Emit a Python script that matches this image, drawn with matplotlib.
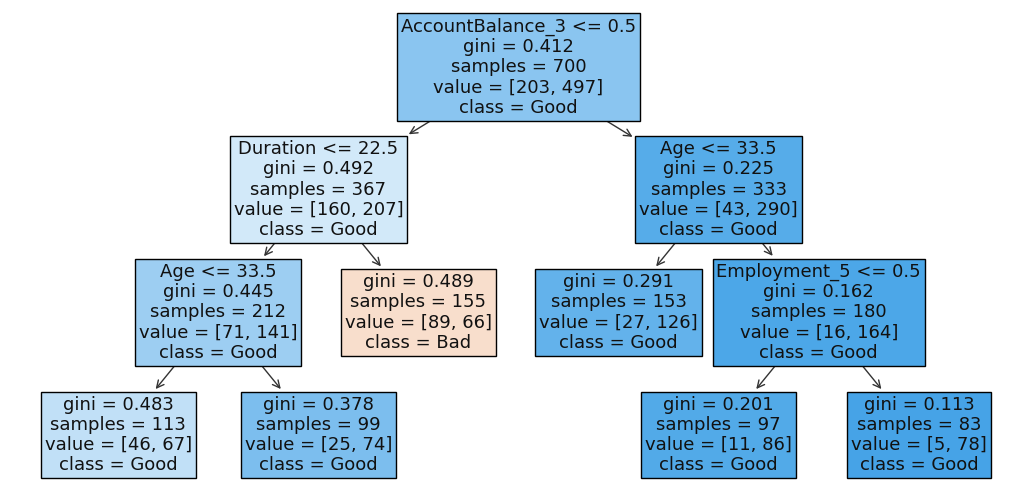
import matplotlib
matplotlib.use("Agg")
import matplotlib.pyplot as plt
import numpy as np

# ---- tree data (preorder) ----
class_names = ["Bad", "Good"]
features = ["AccountBalance_3", "Duration", "Age", None, None, None,
            "Age", None, "Employment_5", None, None]
thresholds = [0.5, 22.5, 33.5, None, None, None, 33.5, None, 0.5, None, None]
gini = [0.412, 0.492, 0.445, 0.483, 0.378, 0.489, 0.225, 0.291, 0.162, 0.201, 0.113]
value_bad = [203, 160, 71, 46, 25, 89, 43, 27, 16, 11, 5]
value_good = [497, 207, 141, 67, 74, 66, 290, 126, 164, 86, 78]
children_left = [1, 2, 3, -1, -1, -1, 7, -1, 9, -1, -1]
children_right = [6, 5, 4, -1, -1, -1, 8, -1, 10, -1, -1]


def color_brew(n):
    s, v = 0.75, 0.9
    c = s * v
    m = v - c
    out = []
    for h in np.arange(25, 385, 360.0 / n).astype(int):
        h_bar = h / 60.0
        x = c * (1 - abs((h_bar % 2) - 1))
        rgb = [(c, x, 0), (x, c, 0), (0, c, x), (0, x, c), (x, 0, c), (c, 0, x), (c, x, 0)]
        r, g, b = rgb[int(h_bar)]
        out.append([int(255 * (r + m)), int(255 * (g + m)), int(255 * (b + m))])
    return out


COLORS = color_brew(len(class_names))


def fill_color(i):
    vals = np.array([value_bad[i], value_good[i]], dtype=float)
    vals = vals / vals.sum()
    col = COLORS[int(np.argmax(vals))]
    sv = sorted(vals, reverse=True)
    alpha = (sv[0] - sv[1]) / (1 - sv[1])
    col = [int(round(alpha * c + (1 - alpha) * 255, 0)) for c in col]
    return "#%02x%02x%02x" % tuple(col)


def node_text(i):
    lines = []
    if children_left[i] != -1:
        lines.append("%s <= %s" % (features[i], thresholds[i]))
    lines.append("gini = %s" % gini[i])
    lines.append("samples = %d" % (value_bad[i] + value_good[i]))
    lines.append("value = [%d, %d]" % (value_bad[i], value_good[i]))
    lines.append("class = %s" % class_names[int(np.argmax([value_bad[i], value_good[i]]))])
    return "\n".join(lines)


# ---- simple tidy tree layout (Reingold-Tilford style) ----
def layout(i):
    if children_left[i] == -1:
        return {i: 0.0}, [0.0], [0.0]
    pl, ll, rl = layout(children_left[i])
    pr, lr, rr = layout(children_right[i])
    shift = max(rl[d] + 1 - lr[d] for d in range(min(len(rl), len(lr))))
    pos = dict(pl)
    for k, v in pr.items():
        pos[k] = v + shift
    lr = [v + shift for v in lr]
    rr = [v + shift for v in rr]
    cx = (pos[children_left[i]] + pos[children_right[i]]) / 2.0
    n = max(len(ll), len(lr))
    left = [cx] + [ll[d] if d < len(ll) else lr[d] for d in range(n)]
    right = [cx] + [rr[d] if d < len(rr) else rl[d] for d in range(n)]
    pos[i] = cx
    return pos, left, right


pos, _, _ = layout(0)
depth = {0: 0}
order = [0]
for i in order:
    for c in (children_left[i], children_right[i]):
        if c != -1:
            depth[c] = depth[i] + 1
            order.append(c)
minx = min(pos.values())
max_x = max(pos.values()) - minx + 1
max_y = max(depth.values()) + 1


def xy(i):
    return ((pos[i] - minx + 0.5) / max_x, (max_y - depth[i] - 0.5) / max_y)


fig = plt.figure(figsize=(10.11, 4.91), dpi=100)
ax = fig.add_axes([0, 0, 1, 1])
ax.set_xlim(-0.018, 0.992)
ax.set_ylim(0.011, 1.0115)
ax.axis("off")

parent = {}
for i in order:
    for c in (children_left[i], children_right[i]):
        if c != -1:
            parent[c] = i

for i in order:
    kw = dict(bbox=dict(boxstyle="square,pad=0.22", fc=fill_color(i), ec="k", lw=1.0),
              ha="center", va="center", linespacing=1.16,
              zorder=100 - 10 * depth[i], fontsize=13, color="#111111")
    if i == 0:
        ax.annotate(node_text(i), xy(i), **kw)
    else:
        ax.annotate(node_text(i), xy(parent[i]), xy(i),
                    arrowprops=dict(arrowstyle="<-", edgecolor="#333333", lw=1.0), **kw)

fig.savefig("out.png", dpi=100)
